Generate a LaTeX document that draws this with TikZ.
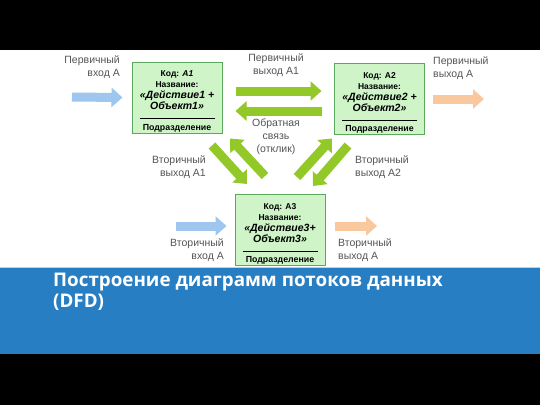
\documentclass[tikz,border=0pt]{standalone}
\usepackage{fontspec}
\setmainfont{Liberation Sans}
\newfontfamily\titlefont{Open Sans}
\usetikzlibrary{arrows.meta,calc}
\pgfdeclarelayer{background}
\pgfsetlayers{background,main}

\definecolor{boxfill}{RGB}{206,244,200}
\definecolor{boxline}{RGB}{92,168,92}
\definecolor{greenflow}{RGB}{146,200,40}
\definecolor{blueflow}{RGB}{158,198,238}
\definecolor{orangeflow}{RGB}{249,200,158}
\definecolor{labelgray}{RGB}{85,85,85}
\definecolor{band}{RGB}{40,126,194}
\definecolor{bandedge}{RGB}{170,215,240}

\newcommand{\bigit}{\itshape\fontsize{10.5}{11}\selectfont}
\newcommand{\dept}{\fontsize{8.8}{11}\selectfont}

\begin{document}
\begin{tikzpicture}[x=1pt,y=-1pt,
  proc/.style={draw=boxline, line width=1pt, fill=boxfill, inner sep=0pt,
    minimum width=90pt, minimum height=71pt, align=center,
    font=\bfseries\fontsize{8.5}{11}\selectfont},
  flow/.style={line width=9pt, -{Triangle[width=19pt,length=11pt]}},
  lbl/.style={inner sep=0pt, text=labelgray, font=\fontsize{10.5}{13}\selectfont}]

\useasboundingbox (0,0) rectangle (540,405);

\begin{pgfonlayer}{background}
\fill[black] (0,0) rectangle (540,405);
\fill[white] (0,50) rectangle (540,268);
\fill[band] (0,268) rectangle (540,354);
\draw[bandedge, line width=1pt] (0,267.5) -- (540,267.5);
\end{pgfonlayer}

\node[proc] (a1) at (177,97.5) {\rule{0pt}{13.5pt}Код: \textit{A1}\\ Название:\\ {\bigit «Действие1 +}\\ {\bigit Объект1»}\\[9.5pt] {\dept Подразделение}};
\node[proc] (a2) at (379.5,99) {\rule{0pt}{13.5pt}Код: A2\\ Название:\\ {\bigit «Действие2 +}\\ {\bigit Объект2»}\\[9.5pt] {\dept Подразделение}};
\node[proc] (a3) at (280,230) {\rule{0pt}{13.5pt}Код: A3\\ Название:\\ {\bigit «Действие3+}\\ {\bigit Объект3»}\\[9.5pt] {\dept Подразделение}};

\draw[line width=0.6pt] ($(a1.south west)+(8,-15)$) -- ($(a1.south east)+(-8,-15)$);
\draw[line width=0.6pt] ($(a2.south west)+(8,-15)$) -- ($(a2.south east)+(-8,-15)$);
\draw[line width=0.6pt] ($(a3.south west)+(8,-15)$) -- ($(a3.south east)+(-8,-15)$);

\coordinate (inA) at (72,97);
\coordinate (outA) at (484,99);
\coordinate (inB) at (176,226);
\coordinate (outB) at (377,226);

\draw[flow, blueflow] (inA) -- ($(a1.west)+(-9,0)$);
\draw[flow, orangeflow] ($(a2.east)+(8,0)$) -- (outA);
\draw[flow, blueflow] (inB) -- ($(a3.west)+(-8,-4)$);
\draw[flow, orangeflow] ($(a3.east)+(9,-4)$) -- (outB);

\draw[flow, greenflow] ($(a1.east)+(13,-6.5)$) -- ($(a2.west)+(-12.5,-8)$);
\draw[flow, greenflow] ($(a2.west)+(-12.5,12)$) -- ($(a1.east)+(13,13.5)$);
\draw[flow, greenflow] ($(a1.south)+(35,12)$) -- ($(a3.north)+(-33,-10)$);
\draw[flow, greenflow] ($(a3.north)+(-15,-18)$) -- ($(a1.south)+(53,5)$);
\draw[flow, greenflow] ($(a3.north)+(17,-17)$) -- ($(a2.south)+(-47.5,3.5)$);
\draw[flow, greenflow] ($(a2.south)+(-31.5,10.5)$) -- ($(a3.north)+(33,-8)$);

\node[lbl, align=right, anchor=north east] (lInA) at (120,56) {Первичный\\вход А};
\node[lbl, align=center, anchor=north] (lOutA1) at (276,54) {Первичный\\выход А1};
\node[lbl, align=center, anchor=north] (lBack) at (276,119) {Обратная\\связь\\(отклик)};
\node[lbl, align=left, anchor=north west] (lOutA) at (433,57) {Первичный\\выход А};
\node[lbl, align=right, anchor=north east] (lSecA1) at (206,156) {Вторичный\\выход А1};
\node[lbl, align=left, anchor=north west] (lSecA2) at (355,156) {Вторичный\\выход А2};
\node[lbl, align=right, anchor=north east] (lSecIn) at (224,238) {Вторичный\\вход А};
\node[lbl, align=left, anchor=north west] (lSecOut) at (338,238) {Вторичный\\выход А};

\node[inner sep=0pt, anchor=north west, align=left, text=white,
  font=\titlefont\bfseries\fontsize{18.8}{21}\selectfont] (title) at (53,273)
  {Построение диаграмм потоков данных\\(DFD)};

\end{tikzpicture}
\end{document}
